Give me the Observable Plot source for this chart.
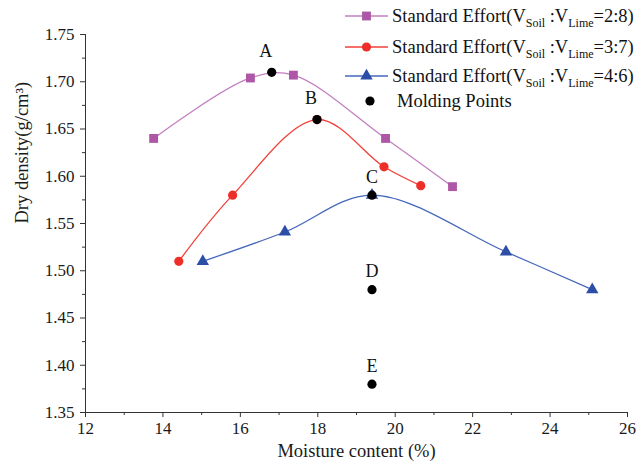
<!DOCTYPE html>
<html>
<head>
<meta charset="utf-8">
<script src="https://cdn.jsdelivr.net/npm/d3@7"></script>
<script src="https://cdn.jsdelivr.net/npm/@observablehq/plot@0.6"></script>
<style>
  body { margin: 0; background: #fff; }
  #chart svg { display: block; }
</style>
</head>
<body>
<div id="chart"></div>
<script>
// Compaction curves: moisture content (%) vs dry density (g/cm³)
const moisture28 = [13.76, 16.26, 17.37, 19.75, 21.48];
const density28  = [1.640, 1.704, 1.707, 1.640, 1.589];
const moisture37 = [14.41, 15.80, 17.98, 19.71, 20.66];
const density37  = [1.510, 1.580, 1.660, 1.610, 1.590];
const moisture46 = [15.03, 17.15, 19.40, 22.86, 25.09];
const density46  = [1.510, 1.541, 1.580, 1.520, 1.480];

// Specimen molding points
const moldingNames    = ["A", "B", "C", "D", "E"];
const moldingMoisture = [16.81, 17.98, 19.40, 19.40, 19.40];
const moldingDensity  = [1.710, 1.660, 1.580, 1.480, 1.380];

// Soil : lime volume ratios
const seriesRatios = ["2:8", "3:7", "4:6"];

const xTicks = [12, 14, 16, 18, 20, 22, 24, 26];
const xMinorTicks = [13, 15, 17, 19, 21, 23, 25];
const yTicks = [1.35, 1.40, 1.45, 1.50, 1.55, 1.60, 1.65, 1.70, 1.75];
const yMinorTicks = [1.375, 1.425, 1.475, 1.525, 1.575, 1.625, 1.675, 1.725];

const xTitle = "Moisture content (%)";
const yTitle = "Dry density(g/cm³)";

const styles = [
  {line: "#c27fc0", fill: "#ad57a6", symbol: "square", r: 5},
  {line: "#f2413a", fill: "#ee2e28", symbol: "circle", r: 4.6},
  {line: "#4667bb", fill: "#2c4ea6", symbol: "triangle", r: 4.6}
];

const toRows = (xs, ys) => xs.map((x, i) => ({x, y: ys[i]}));
const series = [
  toRows(moisture28, density28),
  toRows(moisture37, density37),
  toRows(moisture46, density46)
];
const molding = moldingNames.map((name, i) => ({name, x: moldingMoisture[i], y: moldingDensity[i]}));

const serif = "'Liberation Serif', 'Times New Roman', serif";

const marks = [
  Plot.ruleY([1.35], {stroke: "#333"}),
  Plot.ruleX([12], {stroke: "#333"}),
  Plot.axisX(xTicks, {tickSize: 5, tickPadding: 4, stroke: "#333", fill: "#1a1a1a", label: null}),
  Plot.axisX(xMinorTicks, {tickSize: 3, text: null, label: null, stroke: "#333"}),
  Plot.axisY(yTicks, {tickSize: 5, tickPadding: 6, tickFormat: ".2f", stroke: "#333", fill: "#1a1a1a", label: null}),
  Plot.axisY(yMinorTicks, {tickSize: 3, text: null, label: null, stroke: "#333"}),
  Plot.text([xTitle], {frameAnchor: "bottom", dy: 44, fontSize: 18.5, fill: "#1a1a1a"}),
  Plot.text([yTitle], {frameAnchor: "left", dx: -63, rotate: -90, fontSize: 18.5, fill: "#1a1a1a"})
];

series.forEach((rows, i) => {
  const s = styles[i];
  marks.push(Plot.line(rows, {x: "x", y: "y", curve: "catmull-rom", stroke: s.line, strokeWidth: 1.3}));
  marks.push(Plot.dot(rows, {x: "x", y: "y", symbol: s.symbol, r: s.r, fill: s.fill, stroke: "none"}));
});

marks.push(Plot.dot(molding, {x: "x", y: "y", r: 4.6, fill: "#000"}));
marks.push(Plot.text(molding.slice(0, 2), {x: "x", y: "y", text: "name", dx: -6, dy: -21, fill: "#111", fontSize: 18}));
marks.push(Plot.text(molding.slice(2), {x: "x", y: "y", text: "name", dx: 0, dy: -18, fill: "#111", fontSize: 18}));

const svg = Plot.plot({
  width: 640,
  height: 464,
  marginLeft: 85,
  marginRight: 13,
  marginTop: 34,
  marginBottom: 52,
  x: {domain: [12, 26]},
  y: {domain: [1.35, 1.75]},
  style: {fontFamily: serif, fontSize: "17px", color: "#1a1a1a", background: "#fff"},
  marks
});

// Legend in the upper right corner
const legend = d3.select(svg).append("g")
  .attr("font-family", serif)
  .attr("font-size", 18.5)
  .attr("text-anchor", "start")
  .attr("fill", "#111");

const rowY = [16, 47, 76];
seriesRatios.forEach((ratio, i) => {
  const s = styles[i];
  const g = legend.append("g").attr("transform", `translate(0,${rowY[i]})`);
  g.append("line").attr("x1", 345).attr("x2", 388).attr("y1", 0).attr("y2", 0)
    .attr("stroke", s.line).attr("stroke-width", 1.3);
  const sym = {square: d3.symbolSquare, circle: d3.symbolCircle, triangle: d3.symbolTriangle}[s.symbol];
  g.append("path").attr("transform", "translate(366.5,0)")
    .attr("d", d3.symbol(sym, s.r * s.r * Math.PI)()).attr("fill", s.fill);
  const t = g.append("text").attr("x", 392).attr("y", 6);
  t.append("tspan").text("Standard Effort(V");
  t.append("tspan").attr("font-size", 12).attr("dy", 5).text("Soil");
  t.append("tspan").attr("dy", -5).text(" :V");
  t.append("tspan").attr("font-size", 12).attr("dy", 5).text("Lime");
  t.append("tspan").attr("dy", -5).text(`=${ratio})`);
});
const mg = legend.append("g").attr("transform", "translate(0,101)");
mg.append("circle").attr("cx", 370).attr("cy", 0).attr("r", 4.6).attr("fill", "#000");
mg.append("text").attr("x", 397).attr("y", 6).text("Molding Points");

document.getElementById("chart").appendChild(svg);
</script>
</body>
</html>
